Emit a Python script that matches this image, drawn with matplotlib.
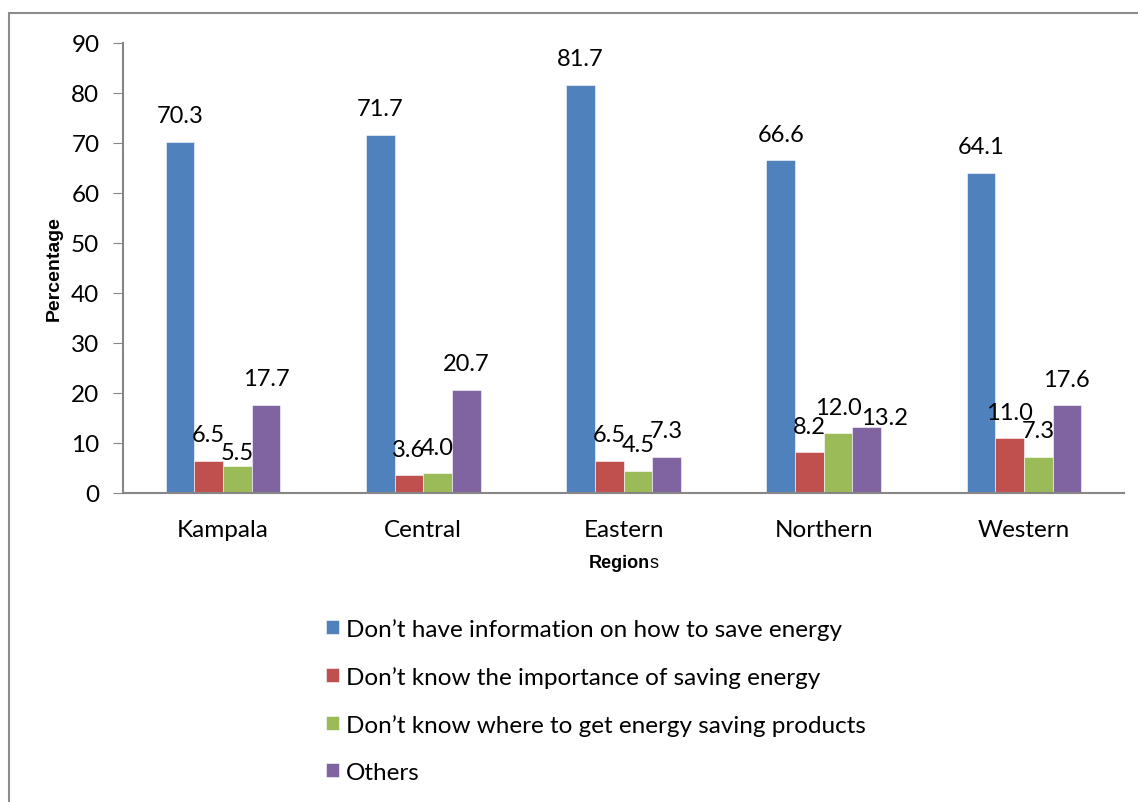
import matplotlib
matplotlib.use("Agg")
import matplotlib.pyplot as plt
from matplotlib.patches import Rectangle
import numpy as np

regions = ["Kampala", "Central", "Eastern", "Northern", "Western"]
series_names = [
    "Don\u2019t have information on how to save energy",
    "Don\u2019t know the importance of saving energy",
    "Don\u2019t know where to get energy saving products",
    "Others",
]
no_info = [70.3, 71.7, 81.7, 66.6, 64.1]
no_importance = [6.5, 3.6, 6.5, 8.2, 11.0]
no_products = [5.5, 4.0, 4.5, 12.0, 7.3]
others = [17.7, 20.7, 7.3, 13.2, 17.6]
colors = ["#4F81BD", "#C0504D", "#9BBB59", "#8064A2"]

# labels that sit lower / shifted in the original (series index, region index) -> (dx, dy) points
label_shift = {(2, 0): (0, 9.5), (3, 3): (13, 6.5)}

plt.rcParams['font.family'] = ['Lato', 'DejaVu Sans']

fig = plt.figure(figsize=(11.38, 8.03), dpi=100)
# outer chart border
fig.patches.append(Rectangle((9 / 1138, -0.01), 1.1, (803 - 14) / 803 + 0.01,
                             transform=fig.transFigure, fill=False,
                             edgecolor="#8C8C8C", linewidth=1.5))

ax = fig.add_axes([123 / 1138, (803 - 494) / 803, (1124 - 123) / 1138, 450 / 803])

x = np.arange(len(regions))
w = 0.143
for k, (vals, name) in enumerate(zip([no_info, no_importance, no_products, others], series_names)):
    pos = x + (k - 1.5) * w
    ax.bar(pos, vals, width=w, color=colors[k], edgecolor="white", linewidth=0.4, label=name)
    for i, (px, v) in enumerate(zip(pos, vals)):
        dx, dy = label_shift.get((k, i), (0, 18.7))
        ax.annotate(f"{v:.1f}", (px, v), xytext=(dx, dy), textcoords="offset points",
                    ha="center", va="center", fontsize=17)

ax.set_xlim(-0.5, 4.5)
ax.set_ylim(0, 90)
ax.set_yticks(range(0, 91, 10))
ax.set_xticks(x)
ax.set_xticklabels(regions, fontsize=17.5)
ax.tick_params(axis="y", labelsize=17.5, length=7, color="#868686", pad=10)
ax.tick_params(axis="x", length=0, pad=19)
for s in ["top", "right"]:
    ax.spines[s].set_visible(False)
for s in ["left", "bottom"]:
    ax.spines[s].set_color("#868686")
    ax.spines[s].set_linewidth(1.5)

ax.set_ylabel("Percentage", fontsize=14, fontweight="bold", family="Liberation Sans")
ax.yaxis.set_label_coords((63 - 123) / 1001, 0.5)
fig.text(650 / 1138, 1 - 563 / 803, "Region", fontsize=13, fontweight="bold",
         family="Liberation Sans", ha="right", va="center")
fig.text(650 / 1138, 1 - 563 / 803, "s", fontsize=13, family="Liberation Sans",
         ha="left", va="center")

fig.legend(loc="upper left", bbox_to_anchor=(326 / 1138, 1 - 619 / 803), frameon=False,
           fontsize=17.5, handlelength=0.52, handleheight=0.52, handletextpad=0.3,
           labelspacing=1.07, borderaxespad=0, borderpad=0)

fig.savefig("out.png", dpi=100)
